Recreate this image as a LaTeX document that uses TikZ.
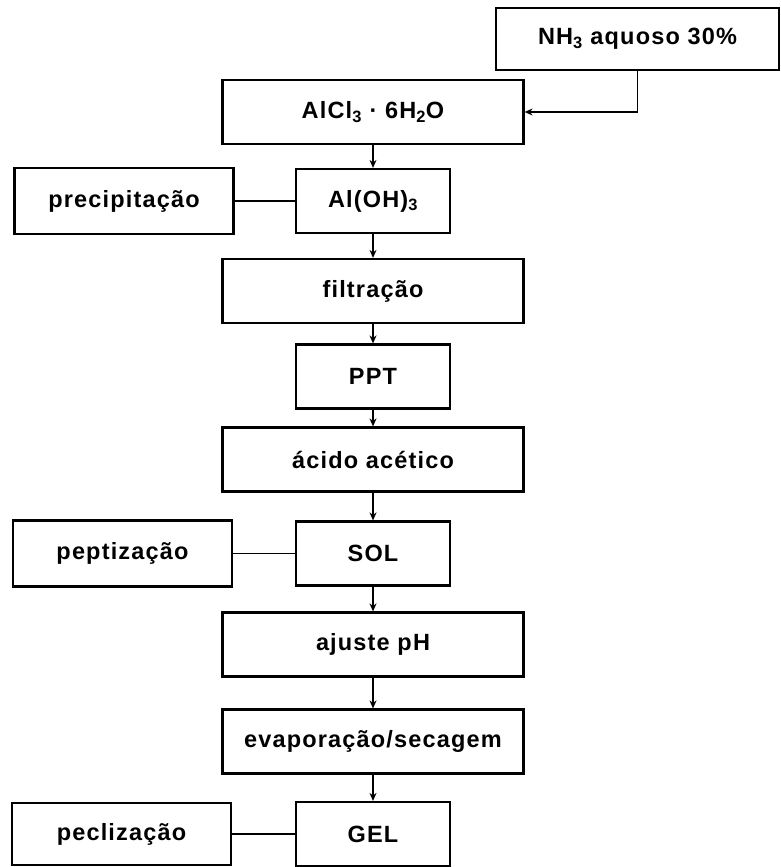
\documentclass[tikz,border=0pt]{standalone}
\usepackage{fontspec}
\setmainfont{Liberation Sans}
\usetikzlibrary{arrows.meta}
\begin{document}
\begin{tikzpicture}[x=1pt,y=-1pt,
  box/.style={draw, line width=2.2pt, inner sep=0pt, align=center,
    font=\fontsize{23.5}{27}\bfseries\selectfont\addfontfeature{LetterSpace=5}},
  wide/.style={box, minimum width=301pt, minimum height=64pt},
  small/.style={box, minimum width=154pt, minimum height=64pt},
  side/.style={box, minimum width=219pt, minimum height=66pt},
  arr/.style={line width=1.7pt, -{Stealth[length=8pt,width=7pt]}},
  link/.style={line width=1.7pt}]
\useasboundingbox (0,0) rectangle (781,867);
\node[box, minimum width=283pt, minimum height=62pt] (nh3) at (637.5,39) {NH\textsubscript{3} aquoso 30\%};
\node[wide] (alcl) at (373,112) {AlCl\textsubscript{3} · 6H\textsubscript{2}O};
\node[small] (aloh) at (373,201) {Al(OH)\textsubscript{3}};
\node[side] (prec) at (124,201) {precipitação};
\node[wide] (filt) at (373,291) {filtração};
\node[small] (ppt) at (373,376.5) {PPT};
\node[wide] (acid) at (373,459.5) {ácido acético};
\node[small] (sol) at (373,553.5) {SOL};
\node[side] (pept) at (122.5,553.5) {peptização};
\node[wide] (ajus) at (373,644.5) {ajuste pH};
\node[wide] (evap) at (373,741.5) {evaporação/secagem};
\node[small] (gel) at (373,834) {GEL};
\node[side, minimum height=62pt] (pecl) at (121.5,834) {peclização};
\draw[arr] (nh3.south) |- (alcl.east);
\draw[arr] (alcl) -- (aloh);
\draw[arr] (aloh) -- (filt);
\draw[arr] (filt) -- (ppt);
\draw[arr] (ppt) -- (acid);
\draw[arr] (acid) -- (sol);
\draw[arr] (sol) -- (ajus);
\draw[arr] (ajus) -- (evap);
\draw[arr] (evap) -- (gel);
\draw[link] (prec) -- (aloh);
\draw[link] (pept) -- (sol);
\draw[link] (pecl) -- (gel);
\end{tikzpicture}
\end{document}
